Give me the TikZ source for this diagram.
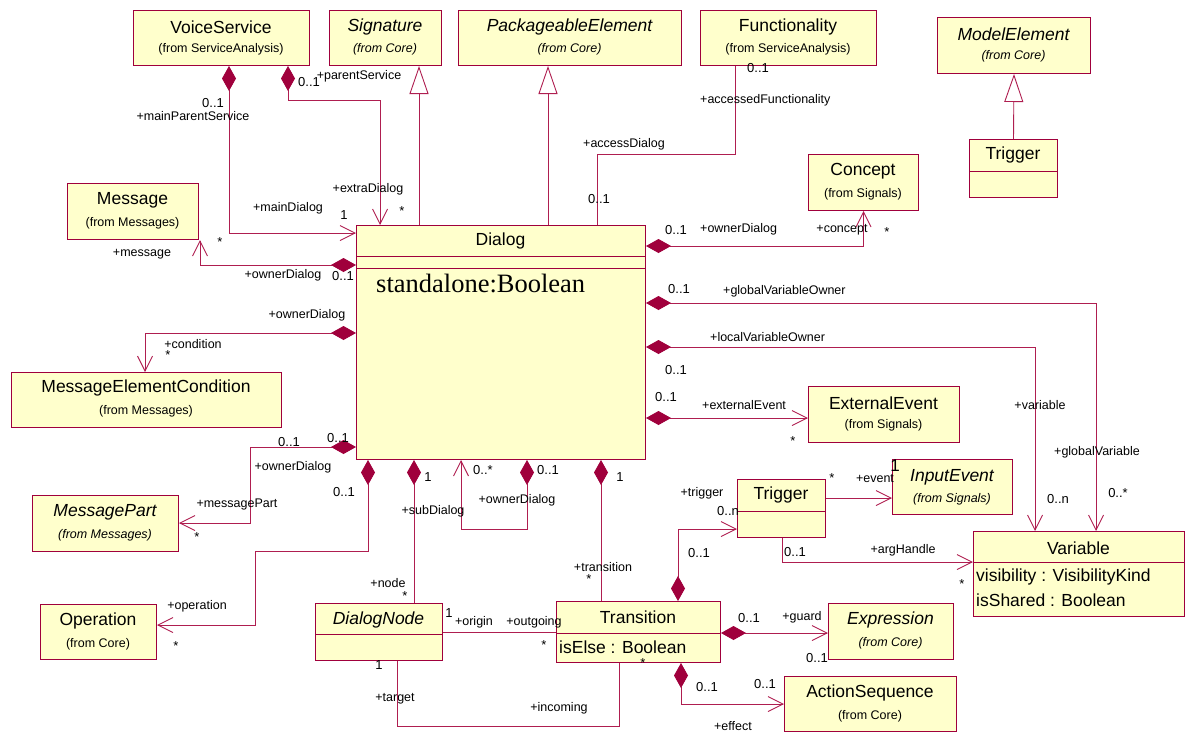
\documentclass[tikz,border=0pt]{standalone}
\usepackage{fontspec}
\setmainfont{Liberation Sans}
\newfontfamily\serifattr{Liberation Serif}
\usetikzlibrary{arrows.meta}
\definecolor{umlborder}{RGB}{160,0,60}
\definecolor{umlfill}{RGB}{255,255,204}
\definecolor{umlline}{RGB}{175,30,80}

\begin{document}
\begin{tikzpicture}[x=1pt,y=-1pt,
  cls/.style={draw=umlborder, fill=umlfill, line width=1pt, inner sep=0pt, anchor=north west},
  cname/.style={font=\fontsize{17.5}{20}\selectfont, inner sep=0pt},
  cfrom/.style={font=\fontsize{12.5}{15}\selectfont, inner sep=0pt},
  absname/.style={font=\fontsize{17.5}{20}\selectfont\itshape, inner sep=0pt},
  absfrom/.style={font=\fontsize{12.5}{15}\selectfont\itshape, inner sep=0pt},
  attr/.style={font=\fontsize{17.5}{20}\selectfont, inner sep=0pt, anchor=west},
  lbl/.style={font=\fontsize{12.5}{15}\selectfont, inner sep=0pt},
  lblw/.style={lbl, anchor=west},
  mult/.style={font=\fontsize{13}{15}\selectfont, inner sep=0pt},
  sep/.style={draw=umlborder, line width=1pt},
  conn/.style={draw=umlline, line width=0.9pt},
  comp/.style={conn, {Diamond[length=25pt,width=14pt,color=umlborder]}-},
  compnav/.style={conn, {Diamond[length=25pt,width=14pt,color=umlborder]}-{Straight Barb[length=15pt,width=15pt]}},
  nav/.style={conn, -{Straight Barb[length=15pt,width=15pt]}},
  gen/.style={conn, -{Triangle[open,length=28pt,width=19pt,fill=white]}},
]
\useasboundingbox (0,0) rectangle (1186,732);

% ---------- classes ----------
\node[cls, minimum width=176pt, minimum height=55pt] (voice) at (133,10) {};
\node[cname] (voice-n) at (221,27) {VoiceService};
\node[cfrom] (voice-f) at (221,49) {(from ServiceAnalysis)};

\node[cls, minimum width=112pt, minimum height=55pt] (sig) at (329,10) {};
\node[absname] (sig-n) at (385,27) {Signature};
\node[absfrom] (sig-f) at (385,49) {(from Core)};

\node[cls, minimum width=223pt, minimum height=55pt] (pkg) at (458,10) {};
\node[absname] (pkg-n) at (569.5,27) {PackageableElement};
\node[absfrom] (pkg-f) at (569.5,49) {(from Core)};

\node[cls, minimum width=176pt, minimum height=55pt] (func) at (700,10) {};
\node[cname] (func-n) at (788,27) {Functionality};
\node[cfrom] (func-f) at (788,49) {(from ServiceAnalysis)};

\node[cls, minimum width=153pt, minimum height=56pt] (model) at (937,17) {};
\node[absname] (model-n) at (1013.5,34) {ModelElement};
\node[absfrom] (model-f) at (1013.5,56) {(from Core)};

\node[cls, minimum width=88pt, minimum height=58pt] (trig2) at (969,139) {};
\node[cname] (trig2-n) at (1013,155) {Trigger};
\draw[sep] ([yshift=-32pt]trig2.north west) -- ([yshift=-32pt]trig2.north east);

\node[cls, minimum width=110pt, minimum height=56pt] (concept) at (808,154) {};
\node[cname] (concept-n) at (863,171) {Concept};
\node[cfrom] (concept-f) at (863,194) {(from Signals)};

\node[cls, minimum width=131pt, minimum height=56pt] (message) at (67,183) {};
\node[cname] (message-n) at (132.5,200) {Message};
\node[cfrom] (message-f) at (132.5,223) {(from Messages)};

\node[cls, minimum width=289pt, minimum height=234pt] (dialog) at (356,225) {};
\node[cname] (dialog-n) at (500.5,241) {Dialog};
\draw[sep] ([yshift=-31pt]dialog.north west) -- ([yshift=-31pt]dialog.north east);
\draw[sep] ([yshift=-43pt]dialog.north west) -- ([yshift=-43pt]dialog.north east);
\node[inner sep=0pt, anchor=base west, font=\serifattr\fontsize{26.5}{30}\selectfont] (dialog-a) at (376,292) {standalone:Boolean};

\node[cls, minimum width=270pt, minimum height=55pt] (mec) at (11,372) {};
\node[cname] (mec-n) at (146,388) {MessageElementCondition};
\node[cfrom] (mec-f) at (146,411) {(from Messages)};

\node[cls, minimum width=146pt, minimum height=56pt] (msgpart) at (32,495) {};
\node[absname] (msgpart-n) at (105,512) {MessagePart};
\node[absfrom] (msgpart-f) at (105,535) {(from Messages)};

\node[cls, minimum width=116pt, minimum height=55pt] (operation) at (40,604) {};
\node[cname] (operation-n) at (98,621) {Operation};
\node[cfrom] (operation-f) at (98,644) {(from Core)};

\node[cls, minimum width=127pt, minimum height=57pt] (dnode) at (315,603) {};
\node[absname] (dnode-n) at (378.5,620) {DialogNode};
\draw[sep] ([yshift=-31pt]dnode.north west) -- ([yshift=-31pt]dnode.north east);

\node[cls, minimum width=164pt, minimum height=61pt] (trans) at (556,601) {};
\node[cname] (trans-n) at (638,617) {Transition};
\draw[sep] ([yshift=-32pt]trans.north west) -- ([yshift=-32pt]trans.north east);
\node[attr] (trans-a) at (559,647) {isElse : Boolean};

\node[cls, minimum width=88pt, minimum height=58pt] (trig) at (737,479) {};
\node[cname] (trig-n) at (781,495) {Trigger};
\draw[sep] ([yshift=-32pt]trig.north west) -- ([yshift=-32pt]trig.north east);

\node[cls, minimum width=120pt, minimum height=55pt] (input) at (892,459) {};
\node[absname] (input-n) at (952,477) {InputEvent};
\node[absfrom] (input-f) at (952,499) {(from Signals)};

\node[cls, minimum width=211pt, minimum height=85pt] (variable) at (973,531) {};
\node[cname] (variable-n) at (1078.5,548) {Variable};
\draw[sep] ([yshift=-31pt]variable.north west) -- ([yshift=-31pt]variable.north east);
\node[attr] (variable-a1) at (976,577) {visibility : VisibilityKind};
\node[attr] (variable-a2) at (976,600) {isShared : Boolean};

\node[cls, minimum width=151pt, minimum height=56pt] (extevent) at (808,386) {};
\node[cname] (extevent-n) at (883.5,403) {ExternalEvent};
\node[cfrom] (extevent-f) at (883.5,425) {(from Signals)};

\node[cls, minimum width=125pt, minimum height=56pt] (expr) at (828,603) {};
\node[absname] (expr-n) at (890.5,620) {Expression};
\node[absfrom] (expr-f) at (890.5,643) {(from Core)};

\node[cls, minimum width=172pt, minimum height=55pt] (action) at (784,676) {};
\node[cname] (action-n) at (870,693) {ActionSequence};
\node[cfrom] (action-f) at (870,716) {(from Core)};

% ---------- attachment points ----------
\coordinate (vs-main) at ([xshift=96pt]voice.south west);
\coordinate (vs-extra) at ([xshift=155pt]voice.south west);
\coordinate (d-main) at ([yshift=-8pt]dialog.north west);
\coordinate (d-extra) at ([xshift=24pt]dialog.north west);
\coordinate (d-sig) at ([xshift=63pt]dialog.north west);
\coordinate (d-pkg) at ([xshift=192pt]dialog.north west);
\coordinate (d-func) at ([xshift=241pt]dialog.north west);
\coordinate (f-acc) at ([xshift=35pt]func.south west);
\coordinate (d-con) at ([yshift=-21pt]dialog.north east);
\coordinate (d-msg) at ([yshift=-40pt]dialog.north west);
\coordinate (m-in) at ([xshift=133pt]message.south west);
\coordinate (d-mec) at ([yshift=-108pt]dialog.north west);
\coordinate (c-in) at ([xshift=134pt]mec.north west);
\coordinate (d-mp) at ([yshift=-222pt]dialog.north west);
\coordinate (p-in) at ([yshift=-28pt]msgpart.north east);
\coordinate (d-op) at ([xshift=12pt]dialog.south west);
\coordinate (o-in) at ([yshift=-21pt]operation.north east);
\coordinate (d-sub) at ([xshift=58pt]dialog.south west);
\coordinate (d-own1) at ([xshift=171pt]dialog.south west);
\coordinate (d-own2) at ([xshift=105pt]dialog.south west);
\coordinate (d-tr) at ([xshift=245pt]dialog.south west);
\coordinate (d-gv) at ([yshift=-78pt]dialog.north east);
\coordinate (v-gv) at ([xshift=123pt]variable.north west);
\coordinate (d-lv) at ([yshift=-122pt]dialog.north east);
\coordinate (v-lv) at ([xshift=62pt]variable.north west);
\coordinate (d-ee) at ([yshift=-193pt]dialog.north east);
\coordinate (t-trg) at ([xshift=122pt]trans.north west);
\coordinate (g-in) at ([yshift=-50pt]trig.north west);
\coordinate (g-ev) at ([yshift=-19pt]trig.north east);
\coordinate (g-arg) at ([xshift=45pt]trig.south west);
\coordinate (v-arg) at ([yshift=-31pt]variable.north west);
\coordinate (t-gd) at ([yshift=-32pt]trans.north east);
\coordinate (t-ef) at ([xshift=125pt]trans.south west);
\coordinate (a-in) at ([yshift=-28pt]action.north west);
\coordinate (n-or) at ([yshift=-29pt]dnode.north east);
\coordinate (n-tg) at ([xshift=82pt]dnode.south west);
\coordinate (t-in) at ([xshift=63pt]trans.south west);

% ---------- connectors ----------
\draw[compnav] (vs-main) |- (d-main);
\draw[compnav] (vs-extra) -- ++(0,34) -| (d-extra);
\draw[gen] (d-sig) -- (d-sig |- sig.south);
\draw[gen] (d-pkg) -- (d-pkg |- pkg.south);
\draw[conn] (d-func) -- ++(0,-71) -| (f-acc);
\draw[gen] (trig2.north) -- (model.south);
\draw[compnav] (d-con) -| (concept.south);
\draw[compnav] (d-msg) -| (m-in);
\draw[compnav] (d-mec) -| (c-in);
\draw[compnav] (d-mp) -- ++(-106,0) |- (p-in);
\draw[compnav] (d-op) -- ++(0,91) -- ++(-113,0) |- (o-in);
\draw[comp] (d-sub) -- (d-sub |- dnode.north);
\draw[compnav] (d-own1) -- ++(0,69) -| (d-own2);
\draw[comp] (d-tr) -- (d-tr |- trans.north);
\draw[compnav] (d-gv) -| (v-gv);
\draw[compnav] (d-lv) -| (v-lv);
\draw[compnav] (d-ee) -- (d-ee -| extevent.west);
\draw[compnav] (t-trg) |- (g-in);
\draw[nav] (g-ev) -- (g-ev -| input.west);
\draw[nav] (g-arg) |- (v-arg);
\draw[compnav] (t-gd) -- (t-gd -| expr.west);
\draw[compnav] (t-ef) |- (a-in);
\draw[conn] (n-or) -- (n-or -| trans.west);
\draw[conn] (n-tg) -- ++(0,65) -| (t-in);

% ---------- role names and multiplicities ----------
\node[mult] (m1) at (213,103) {0..1};
\node[lbl] (r1) at (193,116) {+mainParentService};
\node[mult] (m2) at (309,82) {0..1};
\node[lbl] (r2) at (359,76) {+parentService};
\node[lbl] (r3) at (288,208) {+mainDialog};
\node[mult] (m3) at (344,215) {1};
\node[lbl] (r4) at (368,189) {+extraDialog};
\node[mult] (m4) at (402,211) {*};
\node[mult] (m5) at (758,68) {0..1};
\node[lblw] (r5) at (700,100) {+accessedFunctionality};
\node[lblw] (r6) at (583,144) {+accessDialog};
\node[mult] (m6) at (599,199) {0..1};
\node[mult] (m7) at (676,230) {0..1};
\node[lblw] (r7) at (700,229) {+ownerDialog};
\node[lbl] (r8) at (842,230) {+concept};
\node[mult] (m8) at (887,232) {*};
\node[mult] (m9) at (220,242) {*};
\node[lbl] (r9) at (142,254) {+message};
\node[lbl] (r10) at (283,275) {+ownerDialog};
\node[mult] (m10) at (343,276) {0..1};
\node[lbl] (r11) at (307,315) {+ownerDialog};
\node[lbl] (r12) at (193,344) {+condition};
\node[mult] (m11) at (168,355) {*};
\node[mult] (m12) at (289,442) {0..1};
\node[mult] (m13) at (338,438) {0..1};
\node[lbl] (r13) at (293,467) {+ownerDialog};
\node[lbl] (r14) at (237,504) {+messagePart};
\node[mult] (m14) at (197,537) {*};
\node[mult] (m15) at (344,492) {0..1};
\node[lbl] (r15) at (197,606) {+operation};
\node[mult] (m16) at (176,646) {*};
\node[mult] (m17) at (428,477) {1};
\node[lbl] (r16) at (433,511) {+subDialog};
\node[lbl] (r17) at (388,583) {+node};
\node[mult] (m18) at (405,596) {*};
\node[mult] (m19) at (483,470) {0..*};
\node[mult] (m20) at (548,470) {0..1};
\node[lbl] (r18) at (517,500) {+ownerDialog};
\node[mult] (m21) at (620,477) {1};
\node[lbl] (r19) at (603,567) {+transition};
\node[mult] (m22) at (589,579) {*};
\node[mult] (m23) at (679,289) {0..1};
\node[lblw] (r20) at (723,291) {+globalVariableOwner};
\node[lblw] (r21) at (710,337) {+localVariableOwner};
\node[mult] (m24) at (676,370) {0..1};
\node[mult] (m25) at (666,397) {0..1};
\node[lblw] (r22) at (702,405) {+externalEvent};
\node[mult] (m26) at (793,441) {*};
\node[lbl] (r23) at (1040,405) {+variable};
\node[lblw] (r24) at (1054,452) {+globalVariable};
\node[mult] (m27) at (1058,499) {0..n};
\node[mult] (m28) at (1118,493) {0..*};
\node[mult] (m29) at (699,553) {0..1};
\node[lbl] (r25) at (702,493) {+trigger};
\node[mult] (m30) at (728,511) {0..n};
\node[mult] (m31) at (832,478) {*};
\node[lbl] (r26) at (875,479) {+event};
\node[font=\fontsize{17}{20}\selectfont, inner sep=0pt] (m32) at (895,466) {1};
\node[mult] (m33) at (795,552) {0..1};
\node[lbl] (r27) at (903,550) {+argHandle};
\node[mult] (m34) at (962,584) {*};
\node[mult] (m35) at (749,618) {0..1};
\node[lbl] (r28) at (802,617) {+guard};
\node[mult] (m36) at (817,658) {0..1};
\node[mult] (m37) at (707,687) {0..1};
\node[mult] (m38) at (765,684) {0..1};
\node[lbl] (r29) at (733,726) {+effect};
\node[mult] (m39) at (449,613) {1};
\node[lbl] (r30) at (474,622) {+origin};
\node[lbl] (r31) at (534,622) {+outgoing};
\node[mult] (m40) at (544,645) {*};
\node[mult] (m41) at (379,665) {1};
\node[lbl] (r32) at (395,699) {+target};
\node[lbl] (r33) at (559,708) {+incoming};
\node[mult] (m42) at (643,663) {*};
\end{tikzpicture}
\end{document}
